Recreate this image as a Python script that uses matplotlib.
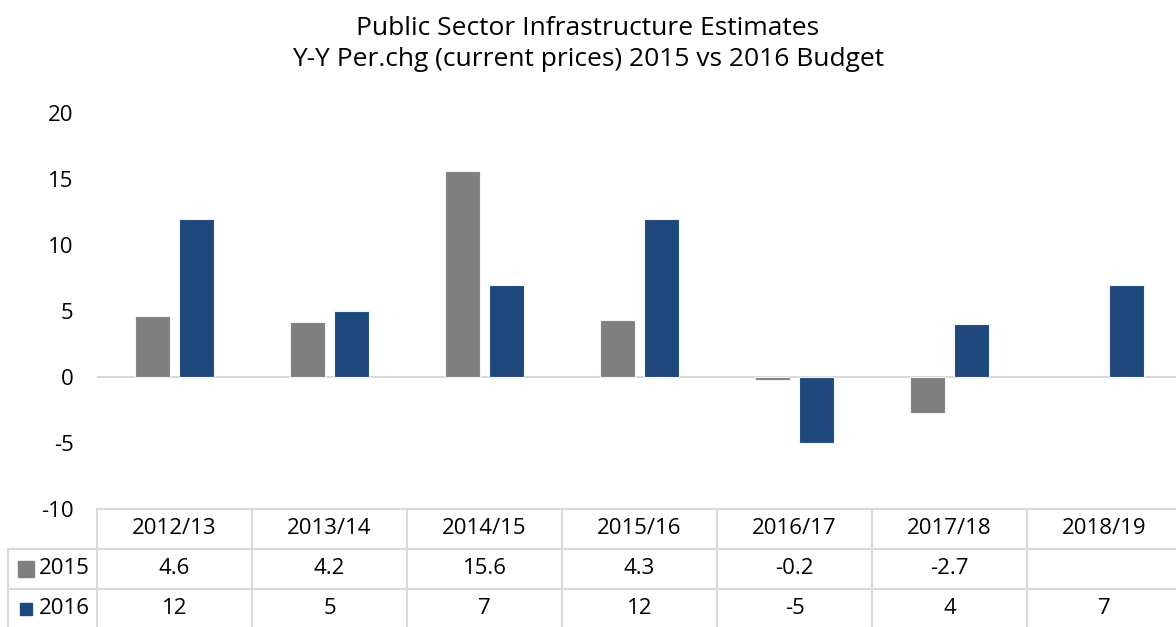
import matplotlib.pyplot as plt
import matplotlib.transforms as mtransforms
import numpy as np

plt.rcParams['font.family'] = ['Open Sans', 'DejaVu Sans']

categories = ['2012/13', '2013/14', '2014/15', '2015/16', '2016/17', '2017/18', '2018/19']
series_names = ['2015', '2016']
values_2015 = [4.6, 4.2, 15.6, 4.3, -0.2, -2.7, np.nan]
values_2016 = [12, 5, 7, 12, -5, 4, 7]
labels_2015 = ['4.6', '4.2', '15.6', '4.3', '-0.2', '-2.7', '']
labels_2016 = ['12', '5', '7', '12', '-5', '4', '7']
yticks = [-10, -5, 0, 5, 10, 15, 20]

colors = ['#7F7F7F', '#1F497D']
grid_col = '#D9D9D9'


def main():
    fig = plt.figure(figsize=(11.76, 6.27), dpi=100)
    W, H = 1176, 627
    ax = fig.add_axes([97 / W, 118 / H, 1085 / W, 396 / H])

    x = np.arange(len(categories))
    bw = 0.22
    off = 0.142
    ax.bar(x - off, values_2015, bw, color=colors[0], edgecolor='#F2F2F2', linewidth=0.8, zorder=3)
    ax.bar(x + off, values_2016, bw, color=colors[1], edgecolor='#F2F2F2', linewidth=0.8, zorder=3)

    ax.set_xlim(-0.5, len(categories) - 0.5)
    ax.set_ylim(-10, 20)
    ax.axhline(0, color=grid_col, lw=1.5, zorder=2)
    ax.set_yticks(yticks)
    ax.set_yticklabels([str(t) for t in yticks], fontsize=16)
    ax.tick_params(axis='y', length=0, pad=17)
    ax.set_xticks([])
    for s in ax.spines.values():
        s.set_visible(False)

    # data table below the plot
    row_h = 40 / 396  # in axes fraction
    trans = mtransforms.blended_transform_factory(ax.transData, ax.transAxes)
    left_ax = -89 / 1085  # left edge of label column in axes fraction

    # horizontal lines
    ax.plot([-0.5, 6.6], [0, 0], transform=trans, color=grid_col, lw=1.5, clip_on=False)
    for k in (1, 2):
        ax.plot([left_ax, 1.0], [-k * row_h, -k * row_h], transform=ax.transAxes,
                color=grid_col, lw=1.5, clip_on=False)
    # vertical lines
    for b in np.arange(len(categories)) - 0.5:
        ax.plot([b, b], [0, -3.2 * row_h], transform=trans, color=grid_col, lw=1.5, clip_on=False)
    ax.plot([left_ax, left_ax], [-row_h, -3.2 * row_h], transform=ax.transAxes,
            color=grid_col, lw=1.5, clip_on=False)

    # header row
    for i, c in enumerate(categories):
        ax.text(i, -0.5 * row_h, c, transform=trans, ha='center', va='center', fontsize=16)
    # value rows
    for r, labs in enumerate([labels_2015, labels_2016]):
        yc = -(1.5 + r) * row_h
        for i, t in enumerate(labs):
            ax.text(i, yc, t, transform=trans, ha='center', va='center', fontsize=16)
        ax.plot([(25.5 - 97) / 1085], [yc], transform=ax.transAxes, marker='s',
                ms=11 if r == 0 else 8, color=colors[r], clip_on=False, ls='none')
        ax.text(-7 / 1085, yc, series_names[r], transform=ax.transAxes, ha='right',
                va='center', fontsize=16)

    fig.text(0.5, 0.93, 'Public Sector Infrastructure Estimates\nY-Y Per.chg (current prices) 2015 vs 2016 Budget',
             ha='center', va='center', fontsize=19, linespacing=1.3)

    plt.savefig('out.png', dpi=100)


if __name__ == "__main__":
    main()
